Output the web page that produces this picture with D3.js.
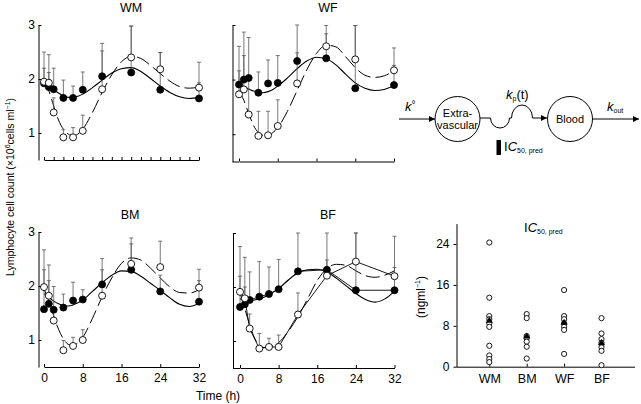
<!DOCTYPE html>
<html><head><meta charset="utf-8">
<script src="https://cdn.jsdelivr.net/npm/d3@7"></script>
<style>
body{margin:0;background:#fff}
svg{display:block}
text{font-family:"Liberation Sans",Arial,Helvetica,sans-serif;fill:#000}
</style>
</head><body>
<svg id="c" width="641" height="404"></svg>
<script>
// ---------- data ----------
const times = [0,1,2,4,6,8,12,18,24,32];
const fitTimes = [0,1,2,3,4,5,6,7,8,10,12,14,16,18,20,22,24,26,28,30,32];
const xTicks = [0,8,16,24,32];
const yTicks = [1,2,3];

const wmClosed    = [1.92,1.85,1.81,1.65,1.65,1.80,2.05,2.12,1.80,1.64];
const wmOpen      = [1.95,1.93,1.38,0.92,0.92,1.04,1.81,2.40,2.18,1.84];
const wmClosedErr = [2.20,2.12,2.20,1.98,1.87,2.13,2.52,2.98,2.49,1.93];
const wmOpenErr   = [2.50,2.45,1.65,1.06,1.10,1.33,2.66,2.98,2.49,2.31];
const wmFitClosed = [1.93,1.87,1.80,1.74,1.69,1.66,1.66,1.68,1.72,1.84,1.98,2.11,2.19,2.21,2.14,2.01,1.87,1.75,1.67,1.64,1.66];
const wmFitOpen   = [1.95,1.78,1.50,1.24,1.07,0.98,0.95,0.98,1.07,1.38,1.75,2.08,2.32,2.42,2.38,2.25,2.10,1.96,1.86,1.83,1.85];

const wfClosed    = [1.91,2.00,2.03,1.76,1.93,1.94,2.34,2.39,1.84,1.90];
const wfOpen      = [1.73,1.82,1.36,0.97,0.98,1.15,1.93,2.61,2.37,2.17];
const wfClosedErr = [2.61,2.87,2.77,2.14,2.36,2.44,3.00,2.99,2.99,2.58];
const wfOpenErr   = [2.16,2.44,2.00,1.42,1.42,1.63,2.49,2.84,2.99,2.26];
const wfFitClosed = [1.91,1.87,1.83,1.79,1.77,1.76,1.78,1.82,1.88,2.03,2.20,2.34,2.41,2.38,2.27,2.10,1.94,1.84,1.80,1.82,1.89];
const wfFitOpen   = [1.80,1.62,1.38,1.16,1.03,0.98,0.98,1.03,1.12,1.42,1.80,2.18,2.48,2.63,2.60,2.42,2.22,2.08,2.04,2.07,2.16];

const bmClosed    = [1.57,1.67,1.56,1.60,1.73,1.75,2.03,2.30,1.90,1.71];
const bmOpen      = [1.98,1.82,1.36,0.81,0.89,1.00,1.82,2.41,2.35,1.97];
const bmClosedErr = [2.30,2.10,1.99,1.85,2.07,1.93,2.51,2.78,2.20,2.10];
const bmOpenErr   = [2.67,2.39,1.60,0.99,1.05,1.19,2.30,2.89,2.83,2.31];
const bmFitClosed = [1.86,1.79,1.72,1.67,1.64,1.63,1.65,1.69,1.74,1.90,2.06,2.20,2.28,2.27,2.18,2.05,1.92,1.78,1.66,1.62,1.68];
const bmFitOpen   = [1.95,1.72,1.45,1.20,1.02,0.92,0.90,0.95,1.05,1.40,1.80,2.15,2.42,2.52,2.48,2.33,2.15,1.98,1.88,1.87,1.93];

const bfClosed    = [1.63,1.68,1.76,1.82,1.87,1.96,2.29,2.32,1.94,1.94];
const bfOpen      = [1.91,1.79,1.23,0.86,0.89,0.89,1.49,2.21,2.47,2.20];
const bfClosedErr = [2.75,2.55,2.28,2.47,2.37,2.51,3.00,3.00,3.00,2.94];
const bfOpenErr   = [2.20,2.00,1.50,1.14,1.05,1.11,1.89,2.50,3.00,2.36];
const bfFitClosed = [1.78,1.76,1.75,1.76,1.78,1.81,1.86,1.91,1.97,2.13,2.26,2.32,2.33,2.28,2.16,2.02,1.88,1.77,1.72,1.78,1.92];
const bfFitOpen   = [1.90,1.60,1.30,1.06,0.92,0.88,0.89,0.92,0.97,1.18,1.45,1.78,2.12,2.34,2.42,2.40,2.30,2.21,2.18,2.22,2.30];

const icCategories = ["WM","BM","WF","BF"];
const icWM = [24.3,13.5,9.9,9.3,8.5,7.8,4.1,2.2,1.5,0.9];
const icBM = [10.3,9.5,6.0,5.6,4.9,3.9,1.6];
const icWF = [15.0,9.9,9.3,8.5,7.8,7.2,2.5];
const icBF = [9.5,6.5,5.4,4.7,3.8,3.1,0.3];
const icMeans = [9.0,5.9,8.6,4.6];
const icTicks = [0,8,16,24];

// ---------- drawing ----------
const svg = d3.select("#c");
const defs = svg.append("defs");
defs.append("marker").attr("id","ah").attr("viewBox","0 0 10 10")
  .attr("refX",10).attr("refY",5).attr("markerWidth",8).attr("markerHeight",6)
  .attr("markerUnits","userSpaceOnUse").attr("orient","auto")
  .append("path").attr("d","M0,0L10,5L0,10Z").attr("fill","#000");

const panels = [
  {name:"WM", c:wmClosed, o:wmOpen, ce:wmClosedErr, oe:wmOpenErr, fc:wmFitClosed, fo:wmFitOpen,
   x0:44, x1:199, yt:25, yb:160, ax:38.5, join:false, minor:true, ylab:true, xlab:false, tx:131, ty:12, connect:false},
  {name:"WF", c:wfClosed, o:wfOpen, ce:wfClosedErr, oe:wfOpenErr, fc:wfFitClosed, fo:wfFitOpen,
   x0:239, x1:394, yt:25, yb:161.5, ax:232.5, join:true, minor:false, ylab:false, xlab:false, tx:328, ty:12, connect:false},
  {name:"BM", c:bmClosed, o:bmOpen, ce:bmClosedErr, oe:bmOpenErr, fc:bmFitClosed, fo:bmFitOpen,
   x0:44, x1:199, yt:232, yb:367, ax:38.5, join:false, minor:false, ylab:true, xlab:true, tx:130, ty:219, connect:false},
  {name:"BF", c:bfClosed, o:bfOpen, ce:bfClosedErr, oe:bfOpenErr, fc:bfFitClosed, fo:bfFitOpen,
   x0:240, x1:394.5, yt:233, yb:368, ax:233, join:true, minor:false, ylab:false, xlab:true, tx:328, ty:219, connect:true}
];

panels.forEach(p => {
  const x = d3.scaleLinear().domain([0,32]).range([p.x0,p.x1]);
  const y = d3.scaleLinear().domain([0.5,3]).range([p.yb,p.yt]);
  const g = svg.append("g");

  const ya = g.append("g").attr("transform",`translate(${p.ax},0)`)
    .call(d3.axisLeft(y).tickValues(yTicks).tickSize(-3).tickSizeOuter(0).tickPadding(3.5)
      .tickFormat(p.ylab ? d3.format("d") : ""));
  ya.select(".domain").attr("stroke","#000").attr("stroke-width",1);
  ya.selectAll(".tick line").attr("stroke","#000");
  ya.selectAll("text").attr("font-size",12).attr("font-family","Liberation Sans, Arial, sans-serif");

  const xa = g.append("g").attr("transform",`translate(0,${p.yb})`)
    .call(d3.axisBottom(x).tickValues(p.minor ? d3.range(0,33,2) : xTicks).tickSize(-3).tickSizeOuter(0).tickPadding(6)
      .tickFormat(p.xlab ? d3.format("d") : ""));
  xa.select(".domain").attr("stroke","#000").attr("stroke-width",1);
  xa.selectAll(".tick line").attr("stroke","#000");
  xa.selectAll("text").attr("font-size",12).attr("font-family","Liberation Sans, Arial, sans-serif");
  if (p.join) {
    g.append("line").attr("x1",p.ax).attr("x2",p.x0).attr("y1",p.yb+0.5).attr("y2",p.yb+0.5)
      .attr("stroke","#000").attr("stroke-width",1);
  }

  g.append("text").attr("x",p.tx).attr("y",p.ty).attr("text-anchor","middle")
    .attr("font-size",12.5).text(p.name);

  const line = d3.line().x(d=>x(d[0])).y(d=>y(d[1]));
  const smooth = d3.line().x(d=>x(d[0])).y(d=>y(d[1])).curve(d3.curveMonotoneX);

  g.append("path").datum(fitTimes.map((t,i)=>[t,p.fc[i]])).attr("d",smooth)
    .attr("fill","none").attr("stroke","#000").attr("stroke-width",1.1);
  g.append("path").datum(fitTimes.map((t,i)=>[t,p.fo[i]])).attr("d",smooth)
    .attr("fill","none").attr("stroke","#000").attr("stroke-width",1)
    .attr("stroke-dasharray","14,5");

  if (p.connect) {
    [p.c,p.o].forEach(arr=>{
      g.append("path").datum(times.map((t,i)=>[t,arr[i]])).attr("d",line)
        .attr("fill","none").attr("stroke","#000").attr("stroke-width",0.9);
    });
  }

  const eb = (vals, tops) => {
    times.forEach((t,i)=>{
      const cx = x(t);
      g.append("line").attr("x1",cx).attr("x2",cx).attr("y1",y(vals[i])).attr("y2",y(tops[i]))
        .attr("stroke","#555").attr("stroke-width",0.8);
      g.append("line").attr("x1",cx-2).attr("x2",cx+2).attr("y1",y(tops[i])).attr("y2",y(tops[i]))
        .attr("stroke","#555").attr("stroke-width",0.8);
    });
  };
  eb(p.c,p.ce); eb(p.o,p.oe);

  g.selectAll(null).data(times.map((t,i)=>[t,p.c[i]])).enter().append("circle")
    .attr("cx",d=>x(d[0])).attr("cy",d=>y(d[1])).attr("r",3.5)
    .attr("fill","#000").attr("stroke","#000").attr("stroke-width",0.8);
  g.selectAll(null).data(times.map((t,i)=>[t,p.o[i]])).enter().append("circle")
    .attr("cx",d=>x(d[0])).attr("cy",d=>y(d[1])).attr("r",3.5)
    .attr("fill","#fff").attr("stroke","#000").attr("stroke-width",0.9);
});

// shared labels
const yl = svg.append("text").attr("transform","translate(14,187) rotate(-90)")
  .attr("text-anchor","middle").attr("font-size",10.5);
yl.append("tspan").text("Lymphocyte cell count (\u00d710");
yl.append("tspan").attr("font-size",7).attr("dy",-4.5).text("6");
yl.append("tspan").attr("dy",4.5).text("cells ml");
yl.append("tspan").attr("font-size",7).attr("dy",-4.5).text("\u22121");
yl.append("tspan").attr("dy",4.5).text(")");

svg.append("text").attr("x",218).attr("y",400).attr("text-anchor","middle").attr("font-size",12).text("Time (h)");

// ---------- schematic ----------
const sc = svg.append("g");
sc.append("line").attr("x1",399).attr("x2",435).attr("y1",119).attr("y2",119)
  .attr("stroke","#000").attr("stroke-width",1).attr("marker-end","url(#ah)");
const k0 = sc.append("text").attr("x",405).attr("y",111).attr("font-size",13);
k0.append("tspan").attr("font-style","italic").text("k");
k0.append("tspan").attr("font-size",10).attr("dy",-3).text("\u00b0");

sc.append("circle").attr("cx",457.5).attr("cy",119).attr("r",22.5).attr("fill","none").attr("stroke","#000").attr("stroke-width",1);
sc.append("text").attr("x",457.5).attr("y",117).attr("text-anchor","middle").attr("font-size",11).text("Extra-");
sc.append("text").attr("x",457.5).attr("y",128.5).attr("text-anchor","middle").attr("font-size",11).text("vascular");

sc.append("path").attr("d","M480,118 H490.5 A9.5,10 0 0 0 509.5,118 H511.5 A10.5,13 0 0 1 532.5,118 H547")
  .attr("fill","none").attr("stroke","#000").attr("stroke-width",1).attr("marker-end","url(#ah)");
const kp = sc.append("text").attr("x",506).attr("y",99).attr("font-size",13);
kp.append("tspan").attr("font-style","italic").text("k");
kp.append("tspan").attr("font-size",7).attr("dy",2).text("p");
kp.append("tspan").attr("dy",-2).text("(t)");

sc.append("rect").attr("x",496.5).attr("y",140).attr("width",4.5).attr("height",15).attr("fill","#000");
const ic1 = sc.append("text").attr("x",504).attr("y",151).attr("font-size",13);
ic1.append("tspan").text("I");
ic1.append("tspan").attr("font-style","italic").text("C");
ic1.append("tspan").attr("font-size",7).attr("dy",2).text("50, pred");

sc.append("circle").attr("cx",570).attr("cy",119).attr("r",22.5).attr("fill","none").attr("stroke","#000").attr("stroke-width",1);
sc.append("text").attr("x",570).attr("y",123).attr("text-anchor","middle").attr("font-size",11).text("Blood");
sc.append("line").attr("x1",592.5).attr("x2",639).attr("y1",119).attr("y2",119)
  .attr("stroke","#000").attr("stroke-width",1).attr("marker-end","url(#ah)");
const ko = sc.append("text").attr("x",607).attr("y",111).attr("font-size",13);
ko.append("tspan").attr("font-style","italic").text("k");
ko.append("tspan").attr("font-size",7).attr("dy",2).text("out");

// ---------- IC50 chart ----------
const icx = d3.scalePoint().domain(icCategories).range([489.3,601.5]);
const icy = d3.scaleLinear().domain([0,28]).range([366.7,223.6]);
const ig = svg.append("g");
const iya = ig.append("g").attr("transform","translate(456.5,0)")
  .call(d3.axisLeft(icy).tickValues(icTicks).tickSize(3).tickSizeOuter(0).tickPadding(4));
iya.select(".domain").attr("stroke","#000");
iya.selectAll(".tick line").attr("stroke","#000");
iya.selectAll("text").attr("font-size",12).attr("font-family","Liberation Sans, Arial, sans-serif");
const ixa = ig.append("g").attr("transform","translate(0,366.7)")
  .call(d3.axisBottom(icx).tickSize(-3).tickSizeOuter(0).tickPadding(7));
ixa.select(".domain").remove();
ig.append("line").attr("x1",456.5).attr("x2",635).attr("y1",367.2).attr("y2",367.2).attr("stroke","#000");
ixa.selectAll(".tick line").attr("stroke","#000");
ixa.selectAll("text").attr("font-size",12.5).attr("font-family","Liberation Sans, Arial, sans-serif");

const icSets = [icWM, icBM, icWF, icBF];
icSets.forEach((arr,k)=>{
  ig.selectAll(null).data(arr).enter().append("circle")
    .attr("cx",icx(icCategories[k])).attr("cy",d=>icy(d)).attr("r",2.6)
    .attr("fill","#fff").attr("stroke","#000").attr("stroke-width",0.9);
});
ig.selectAll(null).data(icMeans).enter().append("path")
  .attr("d",d3.symbol().type(d3.symbolTriangle).size(22))
  .attr("transform",(d,k)=>`translate(${icx(icCategories[k])},${icy(d)})`)
  .attr("fill","#000");

const it = ig.append("text").attr("x",524).attr("y",232).attr("font-size",13);
it.append("tspan").text("I");
it.append("tspan").attr("font-style","italic").text("C");
it.append("tspan").attr("font-size",7).attr("dy",2).text("50, pred");

const ng = ig.append("text").attr("transform","translate(425,297) rotate(-90)")
  .attr("text-anchor","middle").attr("font-size",12);
ng.append("tspan").text("(ngml");
ng.append("tspan").attr("font-size",7).attr("dy",-5).text("\u22121");
ng.append("tspan").attr("dy",5).text(")");
</script>
</body></html>
